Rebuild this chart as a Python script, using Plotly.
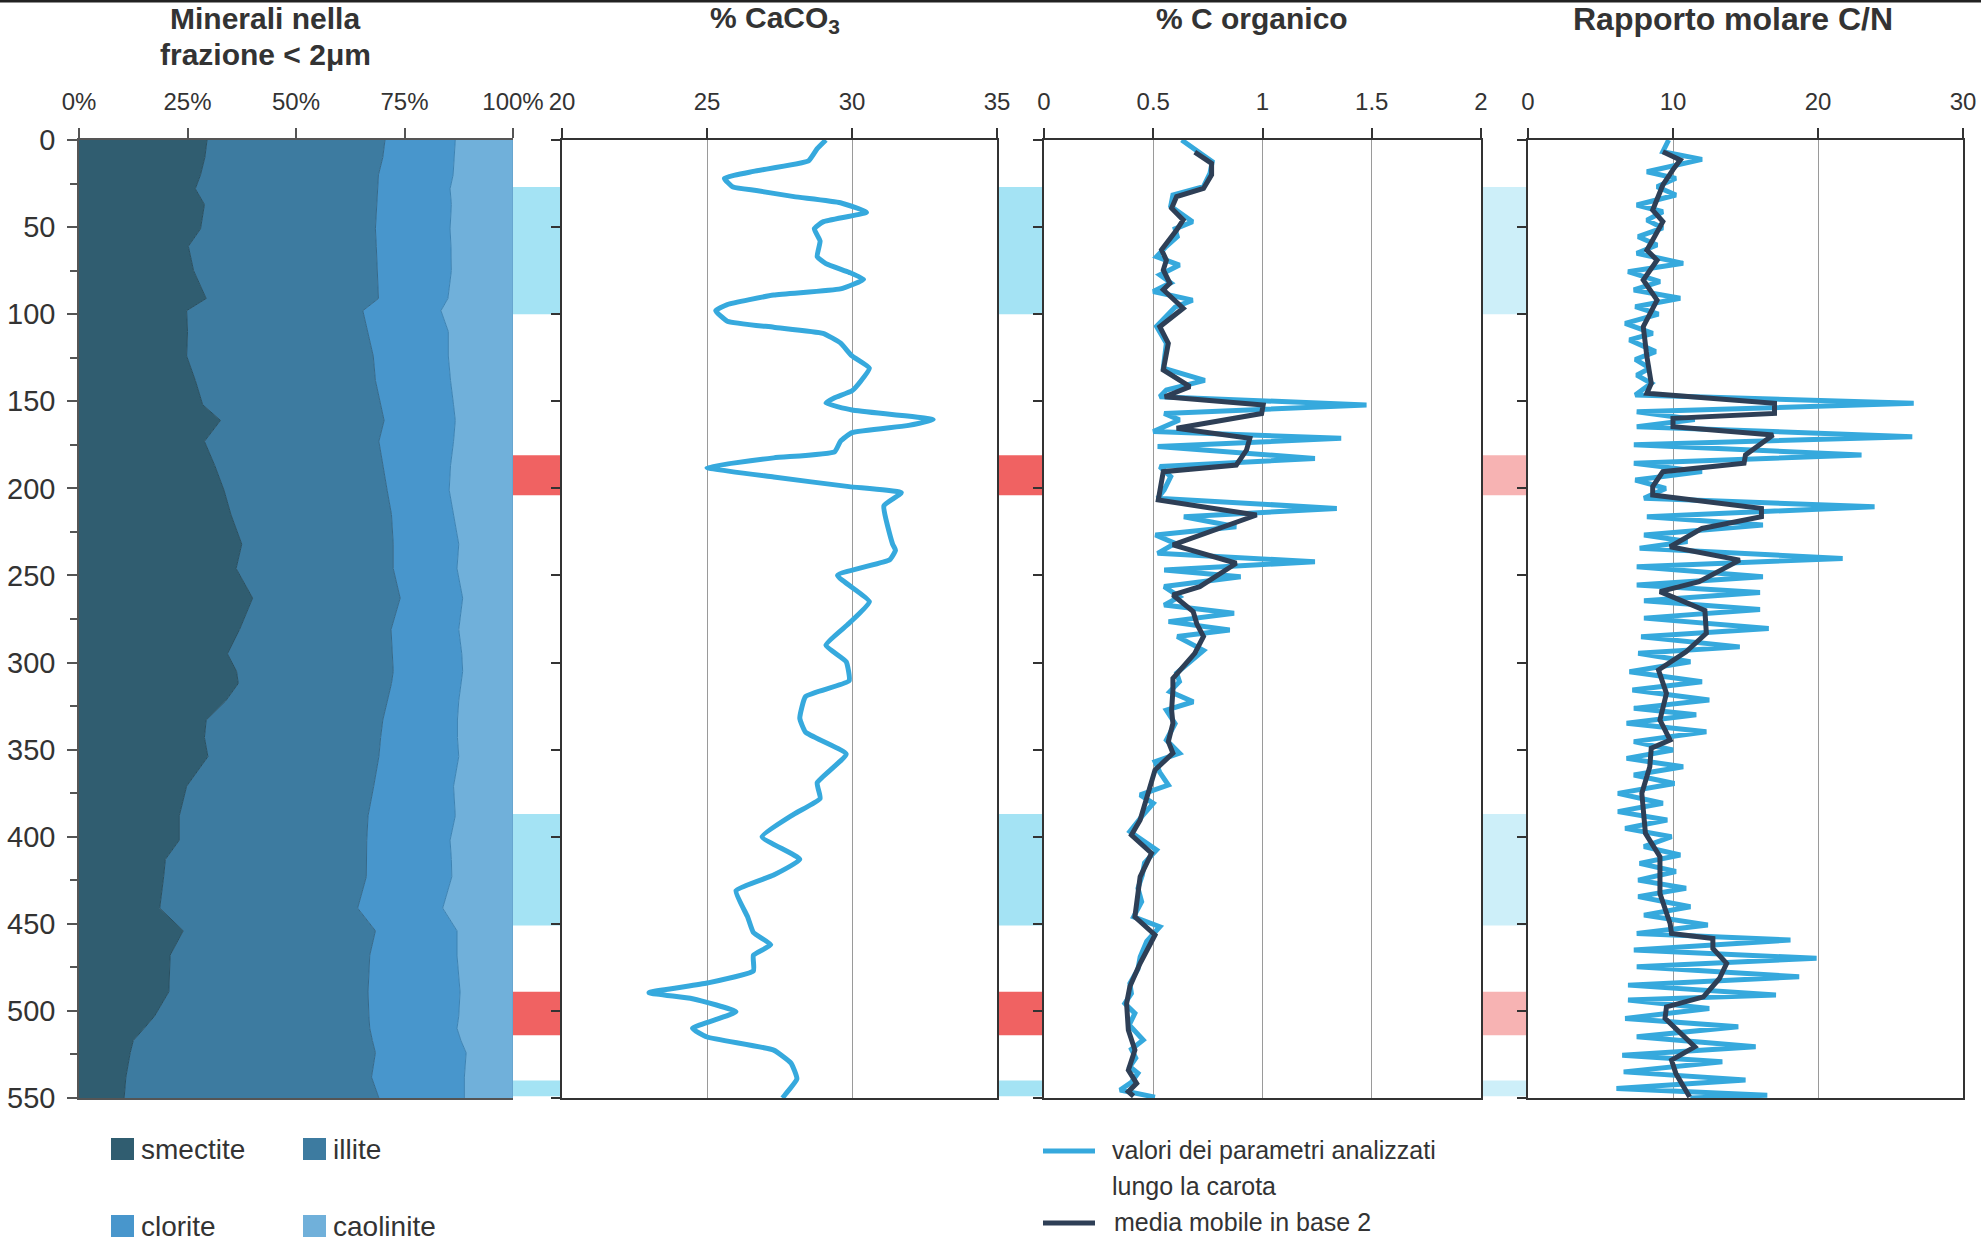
import plotly.graph_objects as go

W, H = 1981, 1245

# ---------------- data ----------------
mineral_names = ["smectite", "illite", "clorite", "caolinite"]
mineral_depth = [0, 10, 20, 28, 37, 51, 61, 75, 91, 98, 110, 124, 138, 152, 161, 173, 187, 201, 215, 232,
                 246, 263, 281, 295, 305, 312, 322, 333, 343, 354, 371, 388, 402, 413, 423, 441, 454, 468,
                 489, 503, 510, 517, 524, 538, 550]
smectite = [29.5, 29.0, 28.0, 26.8, 28.9, 28.0, 25.2, 26.4, 29.3, 24.8, 25.0, 24.8, 26.8, 28.5, 32.6, 28.9,
            31.3, 33.4, 35.0, 37.5, 36.2, 40.0, 37.0, 34.2, 36.3, 36.7, 33.8, 29.3, 28.9, 29.7, 24.8, 23.1,
            23.1, 19.9, 19.5, 18.6, 24.0, 21.0, 20.7, 17.4, 15.0, 12.5, 11.8, 10.8, 10.4]
illite = [41.0, 41.0, 41.0, 42.0, 39.8, 40.3, 43.3, 42.4, 39.7, 40.6, 41.5, 43.0, 41.5, 41.0, 37.7, 40.2,
          38.7, 37.6, 37.0, 34.9, 36.2, 34.0, 34.9, 38.0, 36.1, 35.3, 37.2, 40.7, 40.6, 39.4, 43.1, 43.5,
          43.2, 46.3, 46.7, 45.6, 44.3, 46.0, 45.9, 49.4, 52.0, 55.1, 56.5, 56.6, 58.7]
clorite = [16.2, 16.5, 17.2, 16.7, 17.1, 17.2, 17.2, 17.0, 16.0, 18.0, 18.6, 17.3, 17.3, 16.8, 16.4, 17.2,
           15.6, 14.3, 14.3, 15.1, 14.7, 14.4, 15.6, 16.0, 16.0, 16.0, 16.5, 17.2, 17.7, 18.4, 18.4, 20.1,
           19.2, 19.6, 19.7, 19.6, 18.8, 20.1, 21.2, 20.7, 20.1, 20.4, 20.9, 21.4, 19.7]
caolinite = [13.3, 13.5, 13.8, 14.5, 14.2, 14.5, 14.3, 14.2, 15.0, 16.6, 14.9, 14.9, 14.4, 13.7, 13.3, 13.7,
             14.4, 14.7, 13.7, 12.5, 12.9, 11.6, 12.5, 11.8, 11.6, 12.0, 12.5, 12.8, 12.8, 12.5, 13.7, 13.3,
             14.5, 14.2, 14.1, 16.2, 12.9, 12.9, 12.2, 12.5, 12.9, 12.0, 10.8, 11.2, 11.2]
mineral_ticks = [0, 25, 50, 75, 100]
mineral_ticktext = ["0%", "25%", "50%", "75%", "100%"]

caco3_depth = [0, 5, 12, 18, 22, 27, 29, 32.5, 36, 41.5, 47, 51, 58, 67, 71, 76, 80, 85.5, 89, 94.5,
               98, 104, 107.5, 111, 116.5, 124, 131, 138.5, 144, 148, 151, 155, 160.5, 164, 168, 173, 179,
               182.5, 188, 193.5, 199, 202.5, 210, 232, 235.5, 241, 250, 265, 277.5, 290, 299.5, 310.5,
               319.5, 332, 340, 352.5, 369, 378, 387, 400, 413, 422, 431, 446, 455, 462, 468, 477, 484,
               489.5, 493, 500.5, 510, 515, 522.5, 530, 539, 548, 550]
caco3 = [29.1, 28.8, 28.5, 26.6, 25.6, 25.9, 26.7, 28.0, 29.6, 30.5, 29.0, 28.7, 28.9, 28.8, 29.1, 29.9,
         30.4, 29.6, 27.3, 25.7, 25.3, 25.7, 27.3, 29.0, 29.6, 30.0, 30.6, 30.3, 30.0, 29.4, 29.1, 30.0,
         32.8, 31.9, 30.0, 29.6, 29.4, 27.3, 25.0, 27.3, 29.9, 31.7, 31.1, 31.4, 31.5, 31.3, 29.5, 30.6,
         29.9, 29.1, 29.8, 29.9, 28.4, 28.2, 28.4, 29.8, 28.8, 28.9, 28.0, 26.9, 28.2, 27.3, 26.0, 26.4,
         26.6, 27.2, 26.6, 26.6, 25.0, 23.0, 24.5, 26.0, 24.5, 25.0, 27.3, 27.9, 28.1, 27.7, 27.6]

corg_depth = [0, 6, 12.4, 19, 26.8, 31.6, 38, 46.9, 51, 55.5, 61, 67, 71.8, 77.5, 82, 87, 91.9, 96, 101,
              107, 116.7, 124, 131, 138, 143.5, 147.4, 152.1, 157, 160.7, 167.4, 171.3, 176, 182.8, 187.5,
              193.3, 200.9, 205.7, 211.5, 216.3, 222, 226.8, 231.6, 237.3, 242.1, 246.9, 250.7, 256.4,
              262.2, 267, 271.7, 276.5, 281.3, 285, 293, 300, 306, 311, 316.7, 322.5, 327.3, 335, 344.5,
              352, 356.9, 363, 370.3, 376, 380.8, 388, 397, 407.6, 415, 422, 429.6, 437.3, 446, 451.7,
              460, 469, 476, 484.2, 490, 495.7, 501.4, 508, 516.7, 522, 527, 532, 535.8, 541, 545.4, 549.5]
corg = [0.63, 0.70, 0.77, 0.76, 0.73, 0.59, 0.58, 0.68, 0.60, 0.61, 0.56, 0.515, 0.62, 0.53, 0.58, 0.50,
        0.68, 0.60, 0.56, 0.515, 0.56, 0.55, 0.546, 0.736, 0.56, 0.53, 1.476, 0.55, 0.62, 0.50, 1.36, 0.52,
        1.24, 0.53, 0.58, 0.55, 0.52, 1.34, 0.64, 0.88, 0.51, 0.60, 0.52, 1.24, 0.55, 0.90, 0.55, 0.62,
        0.55, 0.87, 0.57, 0.85, 0.61, 0.73, 0.66, 0.607, 0.62, 0.576, 0.683, 0.56, 0.60, 0.56, 0.62, 0.508,
        0.53, 0.569, 0.44, 0.50, 0.45, 0.393, 0.515, 0.46, 0.45, 0.43, 0.447, 0.41, 0.53, 0.47, 0.44,
        0.43, 0.393, 0.40, 0.37, 0.416, 0.39, 0.454, 0.40, 0.42, 0.393, 0.43, 0.40, 0.348, 0.508]

corg_ma_depth = [7, 13.4, 20, 27.8, 32.5, 39.2, 45.9, 51.7, 63, 69, 74.6, 82.3, 86, 96.6, 107.2, 116.7, 132,
                 141.6, 147.4, 152.1, 157, 165.5, 171.3, 178, 186.6, 190.4, 206.7, 215.3, 232.5, 243,
                 256.4, 261.2, 270.8, 278, 285, 294.7, 309.1, 315.8, 327.3, 334.9, 345.4, 352, 361.7, 377,
                 390.4, 399, 409.5, 423, 446, 456.4, 472.7, 486, 495.7, 511, 522.4, 534, 541.6, 546.4, 549]
corg_ma = [0.69, 0.767, 0.767, 0.73, 0.607, 0.584, 0.637, 0.607, 0.538, 0.56, 0.546, 0.576, 0.546, 0.637,
           0.53, 0.569, 0.546, 0.668, 0.553, 1.003, 0.996, 0.607, 0.942, 0.927, 0.88, 0.546, 0.523, 0.973,
           0.59, 0.88, 0.713, 0.59, 0.683, 0.70, 0.73, 0.69, 0.59, 0.59, 0.584, 0.59, 0.569, 0.59, 0.508,
           0.47, 0.44, 0.40, 0.492, 0.44, 0.416, 0.508, 0.44, 0.393, 0.378, 0.386, 0.416, 0.386, 0.424,
           0.386, 0.41]

cn_depth = [0, 6.7, 11.1, 18.2, 22, 26.8, 31.6, 37.3, 41.2, 46, 50.5, 55.5, 60.3, 65, 70.8, 75.6, 81.3,
            86.1, 90.9, 95.7, 100, 105.3, 111, 114.8, 121.5, 126, 131, 135, 139.7, 146.4, 151.2, 156,
            160.5, 164.6, 170.3, 175, 180.8, 185.6, 190.4, 195.2, 200, 205.7, 210.5, 216.3, 221, 226.8,
            230.5, 234.4, 240.2, 245, 250.7, 255.5, 259.8, 264.5, 269.5, 274.5, 280.4, 285.2, 291, 294.7,
            299.5, 305.3, 311, 315.8, 321.5, 326.3, 330, 334.9, 339.7, 345.4, 350.2, 355, 359.8, 364.6,
            369.4, 375.1, 380.8, 385.6, 390.4, 395.2, 400, 405.7, 410.5, 415.3, 420, 424.9, 429.6, 434.4,
            440.2, 445, 450.7, 455.5, 459.3, 465, 469.8, 474.6, 480.4, 485.2, 490.9, 493.8, 498.6, 504.3,
            509.1, 514.9, 520.6, 525.4, 529.2, 535, 539.7, 544.5, 548.4, 550]
cn = [9.7, 9.3, 12.0, 8.2, 10.2, 8.9, 10.2, 7.5, 9.3, 8.2, 9.3, 7.6, 8.9, 7.5, 10.7, 6.9, 9.1, 7.3, 10.5,
      7.4, 9.0, 6.7, 8.6, 7.0, 8.8, 7.4, 8.4, 7.5, 8.5, 7.4, 26.6, 7.5, 11.5, 7.5, 26.5, 7.3, 23.0, 7.3,
      12.0, 7.4, 9.5, 8.0, 23.9, 8.2, 16.2, 8.0, 11.0, 7.7, 21.7, 7.5, 16.2, 7.5, 16.0, 8.0, 16.0, 8.0,
      16.6, 7.8, 14.6, 7.6, 11.2, 7.0, 12.0, 7.2, 12.5, 7.3, 11.6, 6.8, 12.3, 7.3, 10.0, 6.8, 10.7, 7.3,
      10.1, 6.2, 9.3, 6.2, 9.6, 6.7, 9.9, 8.0, 10.5, 7.7, 10.2, 7.6, 10.9, 7.6, 11.2, 8.0, 12.4, 7.5,
      18.1, 7.3, 19.9, 7.5, 18.7, 6.9, 17.1, 6.9, 12.5, 6.7, 14.5, 7.5, 15.7, 6.5, 13.4, 6.6, 15.0, 6.1,
      16.5, 11.2]

cn_ma_depth = [6.7, 11.5, 17, 25.8, 40.2, 46.9, 57.4, 63.2, 69, 80.4, 91.9, 107.2, 124.4, 139.7, 145.4,
               151.2, 157, 159.8, 164.6, 169.4, 180.8, 185.6, 190.4, 199, 203.8, 211.5, 216.3, 223, 233.5,
               241.2, 253.6, 259.3, 270.1, 283.2, 293.8, 304.3, 317.7, 333, 344.5, 349.2, 359.8, 375.1,
               398.1, 411.5, 432.6, 449.8, 455.5, 458.4, 464.2, 472.7, 481.4, 491.9, 497.7, 504.3, 520.6,
               528.3, 536, 543.6, 549.4]
cn_ma = [9.3, 10.5, 10.0, 9.3, 8.6, 9.3, 8.6, 8.2, 8.9, 7.95, 8.9, 7.95, 8.2, 8.5, 8.2, 17.0, 17.0, 10.0,
         10.0, 16.9, 15.0, 14.9, 9.3, 8.6, 8.6, 16.1, 16.1, 12.0, 9.8, 14.6, 11.8, 9.1, 12.2, 12.3, 10.9,
         9.0, 9.55, 9.1, 9.8, 8.5, 8.4, 7.85, 8.1, 9.1, 9.1, 9.8, 9.9, 12.75, 12.75, 13.7, 13.2, 12.1, 9.55,
         9.45, 11.5, 9.9, 10.2, 10.7, 11.15]

band_top = [27, 181, 387, 489, 540]
band_bottom = [100, 204, 451, 514, 549]
band_kind = ["cyan", "red", "cyan", "red", "cyan"]

# ---------------- styling ----------------
LIGHT = "#36a9dd"
DARK = "#2e3f56"
TXT = "#333333"
mineral_colors = ["#305d70", "#3d7ba0", "#4896cc", "#70b0da"]
mineral_edges = ["#294f60", "#35698a", "#3d83b3", "#5e9cc6"]
band_colors = {"cyan": "#a4e3f4", "red": "#f06262"}
band_colors_pale = {"cyan": "#cdeff9", "red": "#f7b3b3"}

FONT = "Liberation Sans"


def px(x):
    return x / W


def py(y):
    return 1 - y / H


dom = [(px(79), px(513)), (px(562), px(997)), (px(1044), px(1481)), (px(1528), px(1963))]
ydom = [py(1098), py(140)]

fig = go.Figure()

for name, vals, col, edge in zip(mineral_names, [smectite, illite, clorite, caolinite],
                                 mineral_colors, mineral_edges):
    fig.add_trace(go.Scatter(x=vals, y=mineral_depth, name=name, stackgroup="min", orientation="h",
                             mode="lines", line=dict(width=1, color=edge), fillcolor=col,
                             xaxis="x", yaxis="y", showlegend=False, hoverinfo="skip"))

fig.add_trace(go.Scatter(x=caco3, y=caco3_depth, mode="lines",
                         line=dict(color=LIGHT, width=5, shape="spline", smoothing=0.4),
                         xaxis="x2", yaxis="y2", showlegend=False))

fig.add_trace(go.Scatter(x=corg, y=corg_depth, mode="lines", line=dict(color=LIGHT, width=5),
                         xaxis="x3", yaxis="y3", showlegend=False))
fig.add_trace(go.Scatter(x=corg_ma, y=corg_ma_depth, mode="lines", line=dict(color=DARK, width=5),
                         xaxis="x3", yaxis="y3", showlegend=False))

fig.add_trace(go.Scatter(x=cn, y=cn_depth, mode="lines", line=dict(color=LIGHT, width=5),
                         xaxis="x4", yaxis="y4", showlegend=False))
fig.add_trace(go.Scatter(x=cn_ma, y=cn_ma_depth, mode="lines", line=dict(color=DARK, width=5),
                         xaxis="x4", yaxis="y4", showlegend=False))

tickfont = dict(family=FONT, size=24, color=TXT)

layout = dict(
    width=W, height=H, autosize=False,
    margin=dict(l=0, r=0, t=0, b=0, pad=0),
    paper_bgcolor="white", plot_bgcolor="white",
    showlegend=False,
)

# panel 1 axes
layout["xaxis"] = dict(domain=list(dom[0]), range=[0, 100], side="top", anchor="y", automargin=False,
                       tickmode="array", tickvals=mineral_ticks, ticktext=mineral_ticktext,
                       ticks="outside", ticklen=10, tickwidth=1.5, tickcolor="#555",
                       showline=True, linecolor="#555", linewidth=2, mirror=True,
                       showgrid=False, zeroline=False, tickfont=tickfont, ticklabelstandoff=8)
layout["yaxis"] = dict(domain=ydom, range=[550, 0], anchor="x", automargin=False,
                       tickmode="linear", tick0=0, dtick=50,
                       ticks="outside", ticklen=10, tickwidth=1.5, tickcolor="#555",
                       minor=dict(dtick=25, tick0=0, ticks="outside", ticklen=7, tickcolor="#555"),
                       showline=True, linecolor="#555", linewidth=1.5,
                       showgrid=False, zeroline=False,
                       tickfont=dict(family="Liberation Sans Narrow, " + FONT, size=29, color=TXT),
                       ticklabelstandoff=6)

ranges = [None, [20, 35], [0, 2], [0, 30]]
dticks = [None, 5, 0.5, 10]
for i in (2, 3, 4):
    layout[f"xaxis{i}"] = dict(domain=list(dom[i - 1]), range=ranges[i - 1], side="top", anchor=f"y{i}",
                               automargin=False,
                               tickmode="linear", tick0=ranges[i - 1][0], dtick=dticks[i - 1],
                               ticks="outside", ticklen=10, tickwidth=1.5, tickcolor="#333",
                               showline=True, linecolor="#333", linewidth=2, mirror=True,
                               showgrid=True, gridcolor="#9a9a9a", gridwidth=1,
                               zeroline=False, tickfont=tickfont, ticklabelstandoff=8)
    layout[f"yaxis{i}"] = dict(domain=ydom, range=[550, 0], anchor=f"x{i}", matches="y", automargin=False,
                               tickmode="linear", tick0=0, dtick=50, showticklabels=False,
                               ticks="outside", ticklen=9, tickwidth=1.5, tickcolor="#333",
                               showline=True, linecolor="#333", linewidth=2, mirror=True,
                               showgrid=False, zeroline=False)

shapes = []
# coloured bands in the gaps between the panels
gaps = [(px(513), px(562), band_colors), (px(997), px(1044), band_colors),
        (px(1481), px(1528), band_colors_pale)]
for gx0, gx1, cmap in gaps:
    for t, b, k in zip(band_top, band_bottom, band_kind):
        shapes.append(dict(type="rect", xref="paper", yref="y", x0=gx0, x1=gx1, y0=t, y1=b,
                           fillcolor=cmap[k], line=dict(width=0), layer="below"))

# top border line of the page
shapes.append(dict(type="line", xref="paper", yref="paper", x0=0, x1=1, y0=py(1), y1=py(1),
                   line=dict(color="#222", width=3)))

annotations = []
title_font = dict(family=FONT, size=30, color=TXT)
annotations += [
    dict(text="<b>Minerali nella</b>", x=px(265), y=py(19), xref="paper", yref="paper",
         xanchor="center", yanchor="middle", showarrow=False, font=title_font),
    dict(text="<b>frazione &lt; 2μm</b>", x=px(265), y=py(55), xref="paper", yref="paper",
         xanchor="center", yanchor="middle", showarrow=False, font=title_font),
    dict(text="<b>% CaCO<sub>3</sub></b>", x=px(775), y=py(20), xref="paper", yref="paper",
         xanchor="center", yanchor="middle", showarrow=False, font=title_font),
    dict(text="<b>% C organico</b>", x=px(1252), y=py(18), xref="paper", yref="paper",
         xanchor="center", yanchor="middle", showarrow=False, font=title_font),
    dict(text="<b>Rapporto molare C/N</b>", x=px(1733), y=py(19), xref="paper", yref="paper",
         xanchor="center", yanchor="middle", showarrow=False, font=dict(family=FONT, size=32, color=TXT)),
]

# mineral legend (2 x 2)
leg_font = dict(family=FONT, size=28, color=TXT)
leg_pos = [(111, 1149), (303, 1149), (111, 1226), (303, 1226)]
for (lx, ly), name, col in zip(leg_pos, mineral_names, mineral_colors):
    shapes.append(dict(type="rect", xref="paper", yref="paper", x0=px(lx), x1=px(lx + 23),
                       y0=py(ly + 11), y1=py(ly - 11), fillcolor=col, line=dict(width=0)))
    annotations.append(dict(text=name, x=px(lx + 28), y=py(ly), xref="paper", yref="paper",
                            xanchor="left", yanchor="middle", showarrow=False, font=leg_font))

# line legend
line_font = dict(family=FONT, size=25, color=TXT)
shapes.append(dict(type="line", xref="paper", yref="paper", x0=px(1043), x1=px(1095),
                   y0=py(1151), y1=py(1151), line=dict(color=LIGHT, width=5)))
shapes.append(dict(type="line", xref="paper", yref="paper", x0=px(1043), x1=px(1095),
                   y0=py(1223), y1=py(1223), line=dict(color=DARK, width=5)))
annotations += [
    dict(text="valori dei parametri analizzati", x=px(1110), y=py(1150), xref="paper", yref="paper",
         xanchor="left", yanchor="middle", showarrow=False, font=line_font),
    dict(text="lungo la carota", x=px(1110), y=py(1186), xref="paper", yref="paper",
         xanchor="left", yanchor="middle", showarrow=False, font=line_font),
    dict(text="media mobile in base 2", x=px(1112), y=py(1222), xref="paper", yref="paper",
         xanchor="left", yanchor="middle", showarrow=False, font=line_font),
]

layout["shapes"] = shapes
layout["annotations"] = annotations
fig.update_layout(**layout)

fig.write_html("out.html",
               post_script="document.body.style.margin='0';document.body.style.overflow='hidden';")
